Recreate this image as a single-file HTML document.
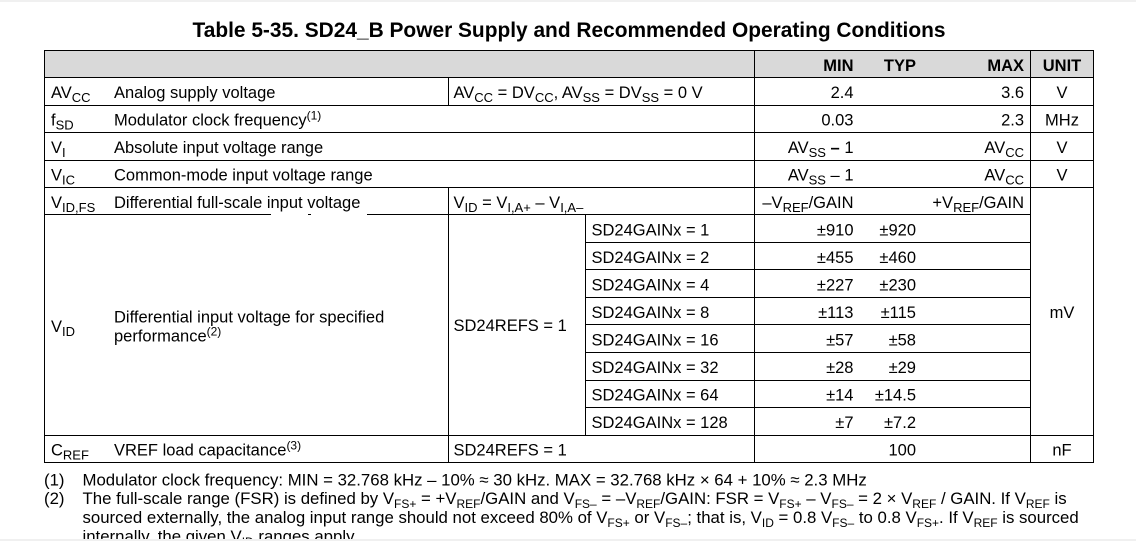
<!DOCTYPE html>
<html><head><meta charset="utf-8"><style>
html,body{margin:0;padding:0;background:#fff;}
svg{display:block;}
text{font-family:"Liberation Sans",Arial,sans-serif;font-size:16.5px;fill:#000;}
.b{font-weight:bold;}
.t{font-size:20.9px;font-weight:bold;}
.fn{font-size:16.8px;}
</style></head><body>
<svg width="1136" height="541" viewBox="0 0 1136 541" xmlns="http://www.w3.org/2000/svg">
<rect x="0" y="0" width="1136" height="2" fill="#f0f0f0"/>
<text class="t" x="569" y="37" text-anchor="middle">Table 5-35. SD24_B Power Supply and Recommended Operating Conditions</text>
<rect x="44" y="50" width="1049" height="27" fill="#d9d9d9"/>
<g stroke="#000" stroke-width="1" fill="none">
<line x1="44" y1="50.5" x2="1094" y2="50.5"/>
<line x1="44" y1="77.5" x2="1094" y2="77.5"/>
<line x1="44" y1="105.5" x2="1094" y2="105.5"/>
<line x1="44" y1="132.5" x2="1094" y2="132.5"/>
<line x1="44" y1="160.5" x2="1094" y2="160.5"/>
<line x1="44" y1="187.5" x2="1094" y2="187.5"/>
<line x1="44" y1="214.5" x2="271" y2="214.5"/>
<line x1="308" y1="214.5" x2="311" y2="214.5"/>
<line x1="367" y1="214.5" x2="1031" y2="214.5"/>
<line x1="585" y1="242.5" x2="1031" y2="242.5"/>
<line x1="585" y1="269.5" x2="1031" y2="269.5"/>
<line x1="585" y1="297.5" x2="1031" y2="297.5"/>
<line x1="585" y1="324.5" x2="1031" y2="324.5"/>
<line x1="585" y1="352.5" x2="1031" y2="352.5"/>
<line x1="585" y1="380.5" x2="1031" y2="380.5"/>
<line x1="585" y1="407.5" x2="1031" y2="407.5"/>
<line x1="44" y1="435.5" x2="1094" y2="435.5"/>
<line x1="44" y1="462.5" x2="1094" y2="462.5"/>
<line x1="44.5" y1="50" x2="44.5" y2="463"/>
<line x1="1093.5" y1="50" x2="1093.5" y2="463"/>
<line x1="1030.5" y1="50" x2="1030.5" y2="463"/>
<line x1="754.5" y1="50" x2="754.5" y2="463"/>
<line x1="448.5" y1="77" x2="448.5" y2="105"/>
<line x1="448.5" y1="187" x2="448.5" y2="463"/>
<line x1="585.5" y1="214" x2="585.5" y2="435"/>
</g>
<!-- header -->
<text class="b" x="853.5" y="71" text-anchor="end">MIN</text>
<text class="b" x="916" y="71" text-anchor="end">TYP</text>
<text class="b" x="1024" y="71" text-anchor="end">MAX</text>
<text class="b" x="1062" y="71" text-anchor="middle">UNIT</text>
<!-- row 1 -->
<text x="51" y="98">AV<tspan dy="4" font-size="13">CC</tspan></text>
<text x="114" y="98">Analog supply voltage</text>
<text x="453.5" y="98">AV<tspan dy="4" font-size="13">CC</tspan><tspan dy="-4"> = DV</tspan><tspan dy="4" font-size="13">CC</tspan><tspan dy="-4">, AV</tspan><tspan dy="4" font-size="13">SS</tspan><tspan dy="-4"> = DV</tspan><tspan dy="4" font-size="13">SS</tspan><tspan dy="-4"> = 0 V</tspan></text>
<text x="853.5" y="98" text-anchor="end">2.4</text>
<text x="1024" y="98" text-anchor="end">3.6</text>
<text x="1062" y="98" text-anchor="middle">V</text>
<!-- row 2 -->
<text x="51" y="125.5">f<tspan dy="4" font-size="13">SD</tspan></text>
<text x="114" y="125.5">Modulator clock frequency<tspan dy="-6" font-size="12">(1)</tspan></text>
<text x="853.5" y="125.5" text-anchor="end">0.03</text>
<text x="1024" y="125.5" text-anchor="end">2.3</text>
<text x="1062" y="125.5" text-anchor="middle">MHz</text>
<!-- row 3 -->
<text x="51" y="153">V<tspan dy="4" font-size="13">I</tspan></text>
<text x="114" y="153">Absolute input voltage range</text>
<text x="853.5" y="153" text-anchor="end">AV<tspan dy="4" font-size="13">SS</tspan><tspan dy="-4" font-weight="bold"> –</tspan><tspan> 1</tspan></text>
<text x="1024" y="153" text-anchor="end">AV<tspan dy="4" font-size="13">CC</tspan></text>
<text x="1062" y="153" text-anchor="middle">V</text>
<!-- row 4 -->
<text x="51" y="180.5">V<tspan dy="4" font-size="13">IC</tspan></text>
<text x="114" y="180.5">Common-mode input voltage range</text>
<text x="853.5" y="180.5" text-anchor="end">AV<tspan dy="4" font-size="13">SS</tspan><tspan dy="-4"> – 1</tspan></text>
<text x="1024" y="180.5" text-anchor="end">AV<tspan dy="4" font-size="13">CC</tspan></text>
<text x="1062" y="180.5" text-anchor="middle">V</text>
<!-- row 5 -->
<text x="51" y="208">V<tspan dy="4" font-size="13">ID,FS</tspan></text>
<text x="114" y="208">Differential full-scale input voltage</text>
<text x="453.5" y="208">V<tspan dy="4" font-size="13">ID</tspan><tspan dy="-4"> = V</tspan><tspan dy="4" font-size="13">I,A+</tspan><tspan dy="-4"> – V</tspan><tspan dy="4" font-size="13">I,A–</tspan></text>
<text x="853.5" y="208" text-anchor="end">–V<tspan dy="4" font-size="13">REF</tspan><tspan dy="-4">/GAIN</tspan></text>
<text x="1024" y="208" text-anchor="end">+V<tspan dy="4" font-size="13">REF</tspan><tspan dy="-4">/GAIN</tspan></text>
<!-- VID block -->
<text x="51" y="332">V<tspan dy="4" font-size="13">ID</tspan></text>
<text x="114" y="322.7">Differential input voltage for specified</text>
<text x="114" y="341.7">performance<tspan dy="-6" font-size="12">(2)</tspan></text>
<text x="453.5" y="331">SD24REFS = 1</text>
<text x="1062" y="318" text-anchor="middle">mV</text>
<text x="591.5" y="235.5">SD24GAINx = 1</text>
<text x="853.5" y="235.5" text-anchor="end">±910</text>
<text x="916" y="235.5" text-anchor="end">±920</text>
<text x="591.5" y="263">SD24GAINx = 2</text>
<text x="853.5" y="263" text-anchor="end">±455</text>
<text x="916" y="263" text-anchor="end">±460</text>
<text x="591.5" y="290.5">SD24GAINx = 4</text>
<text x="853.5" y="290.5" text-anchor="end">±227</text>
<text x="916" y="290.5" text-anchor="end">±230</text>
<text x="591.5" y="318">SD24GAINx = 8</text>
<text x="853.5" y="318" text-anchor="end">±113</text>
<text x="916" y="318" text-anchor="end">±115</text>
<text x="591.5" y="345.5">SD24GAINx = 16</text>
<text x="853.5" y="345.5" text-anchor="end">±57</text>
<text x="916" y="345.5" text-anchor="end">±58</text>
<text x="591.5" y="373">SD24GAINx = 32</text>
<text x="853.5" y="373" text-anchor="end">±28</text>
<text x="916" y="373" text-anchor="end">±29</text>
<text x="591.5" y="400.5">SD24GAINx = 64</text>
<text x="853.5" y="400.5" text-anchor="end">±14</text>
<text x="916" y="400.5" text-anchor="end">±14.5</text>
<text x="591.5" y="428">SD24GAINx = 128</text>
<text x="853.5" y="428" text-anchor="end">±7</text>
<text x="916" y="428" text-anchor="end">±7.2</text>
<!-- CREF -->
<text x="51" y="455.5">C<tspan dy="4" font-size="13">REF</tspan></text>
<text x="114" y="455.5">VREF load capacitance<tspan dy="-6" font-size="12">(3)</tspan></text>
<text x="453.5" y="455.5">SD24REFS = 1</text>
<text x="916" y="455.5" text-anchor="end">100</text>
<text x="1062" y="455.5" text-anchor="middle">nF</text>
<!-- footnotes -->
<text class="fn" x="44" y="485.5">(1)</text>
<text class="fn" x="82.5" y="485.5">Modulator clock frequency: MIN = 32.768 kHz – 10% ≈ 30 kHz. MAX = 32.768 kHz × 64 + 10% ≈ 2.3 MHz</text>
<text class="fn" x="44" y="504">(2)</text>
<text class="fn" x="82.5" y="504">The full-scale range (FSR) is defined by V<tspan dy="4" font-size="12">FS+</tspan><tspan dy="-4"> = +V</tspan><tspan dy="4" font-size="12">REF</tspan><tspan dy="-4">/GAIN and V</tspan><tspan dy="4" font-size="12">FS–</tspan><tspan dy="-4"> = –V</tspan><tspan dy="4" font-size="12">REF</tspan><tspan dy="-4">/GAIN: FSR = V</tspan><tspan dy="4" font-size="12">FS+</tspan><tspan dy="-4"> – V</tspan><tspan dy="4" font-size="12">FS–</tspan><tspan dy="-4"> = 2 × V</tspan><tspan dy="4" font-size="12">REF</tspan><tspan dy="-4"> / GAIN. If V</tspan><tspan dy="4" font-size="12">REF</tspan><tspan dy="-4"> is</tspan></text>
<text class="fn" x="82.5" y="523">sourced externally, the analog input range should not exceed 80% of V<tspan dy="4" font-size="12">FS+</tspan><tspan dy="-4"> or V</tspan><tspan dy="4" font-size="12">FS–</tspan><tspan dy="-4">; that is, V</tspan><tspan dy="4" font-size="12">ID</tspan><tspan dy="-4"> = 0.8 V</tspan><tspan dy="4" font-size="12">FS–</tspan><tspan dy="-4"> to 0.8 V</tspan><tspan dy="4" font-size="12">FS+</tspan><tspan dy="-4">. If V</tspan><tspan dy="4" font-size="12">REF</tspan><tspan dy="-4"> is sourced</tspan></text>
<text class="fn" x="82.5" y="542">internally, the given V<tspan dy="4" font-size="12">ID</tspan><tspan dy="-4"> ranges apply.</tspan></text>
<rect x="0" y="539" width="1136" height="2" fill="#f0f0f0"/>
</svg>
</body></html>
